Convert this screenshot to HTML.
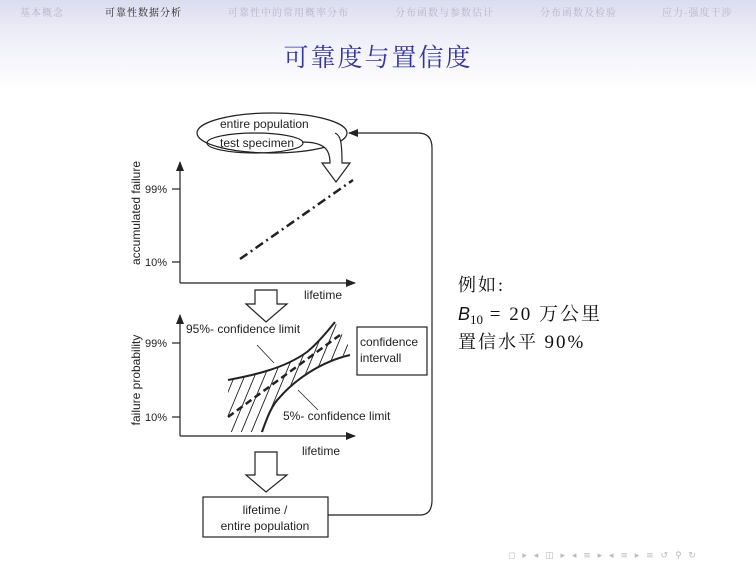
<!DOCTYPE html>
<html><head><meta charset="utf-8"><style>
body{margin:0;width:756px;height:567px;overflow:hidden;background:#fff;font-family:"Liberation Sans","Noto Serif CJK SC",sans-serif}
.hdr{position:absolute;left:0;top:0;width:756px;height:90px;background:linear-gradient(#dcdcf0,#eeeef8 40%,#fff)}
.nav{position:absolute;top:4px;font-family:"Noto Serif CJK SC",serif;font-size:10px;color:#b4b4c8;letter-spacing:1px}
</style></head><body>
<div class="hdr"></div>
<div class="nav" style="left:20px">基本概念</div>
<div class="nav" style="left:105px;color:#222">可靠性数据分析</div>
<div class="nav" style="left:228px">可靠性中的常用概率分布</div>
<div class="nav" style="left:395px">分布函数与参数估计</div>
<div class="nav" style="left:540px">分布函数及检验</div>
<div class="nav" style="left:662px">应力-强度干涉</div>
<div style="position:absolute;left:0;width:756px;top:38px;text-align:center;font-family:'Noto Serif CJK SC',serif;font-size:25px;letter-spacing:2px;color:#3535a0">可靠度与置信度</div>
<svg width="756" height="567" style="position:absolute;left:0;top:0" font-family="Liberation Sans, sans-serif">
<defs>
<marker id="ah" markerWidth="10" markerHeight="8" refX="9" refY="4" orient="auto" markerUnits="userSpaceOnUse"><path d="M0,0 L10,4 L0,8 Z" fill="#222"/></marker>
<clipPath id="band"><path d="M228,380 C255,375 285,368 307,352 C318,343 327,332 335,322 L352,352 C320,365 295,375 275,405 L262,432 L228,432 Z"/></clipPath>
</defs>
<g stroke="#222" fill="none" stroke-width="1.2">
<ellipse cx="272" cy="133" rx="75" ry="20"/>
<ellipse cx="255" cy="143" rx="48" ry="10"/>
<path d="M302,142 C325,142 330,150 330,163 L322,163 L336,182 L350,163 L342,163 C342,140 340,135 335,133" fill="#fff"/>
<line x1="180" y1="283" x2="180" y2="162" marker-end="url(#ah)"/>
<line x1="180" y1="283" x2="355" y2="283" marker-end="url(#ah)"/>
<line x1="172" y1="189" x2="180" y2="189"/><line x1="172" y1="262" x2="180" y2="262"/>
<line x1="240" y1="259" x2="353" y2="180" stroke-width="2.5" stroke-dasharray="9,4,2,4"/>
<path d="M255,290 L277,290 L277,304 L287,304 L266,322 L246,304 L255,304 Z" fill="#fff"/>
<line x1="180" y1="436" x2="180" y2="315" marker-end="url(#ah)"/>
<line x1="180" y1="436" x2="355" y2="436" marker-end="url(#ah)"/>
<line x1="172" y1="343" x2="180" y2="343"/><line x1="172" y1="417" x2="180" y2="417"/>
<g clip-path="url(#band)" stroke-width="0.9">
<path d="M218,440 L268,320 M228,440 L278,320 M238,440 L288,320 M248,440 L298,320 M258,440 L308,320 M268,440 L318,320 M278,440 L328,320 M288,440 L338,320 M298,440 L348,320 M308,440 L358,320 M208,440 L258,320 M198,440 L248,320"/>
</g>
<path d="M228,380 C255,375 285,368 307,352 C318,343 327,332 335,322" stroke-width="2"/>
<path d="M262,432 C268,415 272,405 280,397 C295,380 320,362 350,355" stroke-width="2"/>
<line x1="228" y1="417" x2="340" y2="335" stroke-width="2.5" stroke-dasharray="7,4"/>
<line x1="257" y1="345" x2="274" y2="363" stroke-width="0.8"/>
<line x1="298" y1="390" x2="318" y2="410" stroke-width="0.8"/>
<rect x="357" y="327" width="70" height="48"/>
<path d="M255,452 L277,452 L277,475 L287,475 L266,492 L246,475 L255,475 Z" fill="#fff"/>
<rect x="203" y="497" width="125" height="40"/>
<path d="M328,515 L420,515 Q432,515 432,500 L432,148 Q432,133 418,133 L349,133" marker-end="url(#ah)"/>
</g>
<g fill="#222" font-size="12">
<text x="220" y="128">entire population</text>
<text x="220" y="147">test specimen</text>
<text x="145" y="193" font-size="11">99%</text>
<text x="145" y="266" font-size="11">10%</text>
<text transform="translate(140,213) rotate(-90)" text-anchor="middle">accumulated failure</text>
<text x="304" y="299">lifetime</text>
<text x="145" y="347" font-size="11">99%</text>
<text x="145" y="421" font-size="11">10%</text>
<text transform="translate(140,380) rotate(-90)" text-anchor="middle">failure probability</text>
<text x="186" y="333">95%- confidence limit</text>
<text x="283" y="420">5%- confidence limit</text>
<text x="302" y="455">lifetime</text>
<text x="360" y="346">confidence</text>
<text x="360" y="362">intervall</text>
<text x="265" y="514" text-anchor="middle">lifetime /</text>
<text x="265" y="530" text-anchor="middle">entire population</text>
</g>
<g font-family="Liberation Serif, Noto Serif CJK SC, serif" font-size="18" fill="#111" letter-spacing="2">
<text x="458" y="291">例如:</text>
<text x="458" y="320"><tspan font-family="Liberation Sans, sans-serif" font-style="italic" letter-spacing="0">B</tspan><tspan font-size="13" dy="4" letter-spacing="0">10</tspan><tspan dy="-4" font-size="19"> = 20 万公里</tspan></text>
<text x="458" y="348">置信水平 <tspan font-size="19">90%</tspan></text>
</g>
<text x="508" y="558" font-size="9" fill="#bbb" font-family="DejaVu Sans, sans-serif" letter-spacing="2">◻ ▸ ◂ ◫ ▸ ◂ ≡ ▸ ◂ ≡ ▸  ≡  ↺ ⚲ ↻</text>
</svg>
</body></html>
